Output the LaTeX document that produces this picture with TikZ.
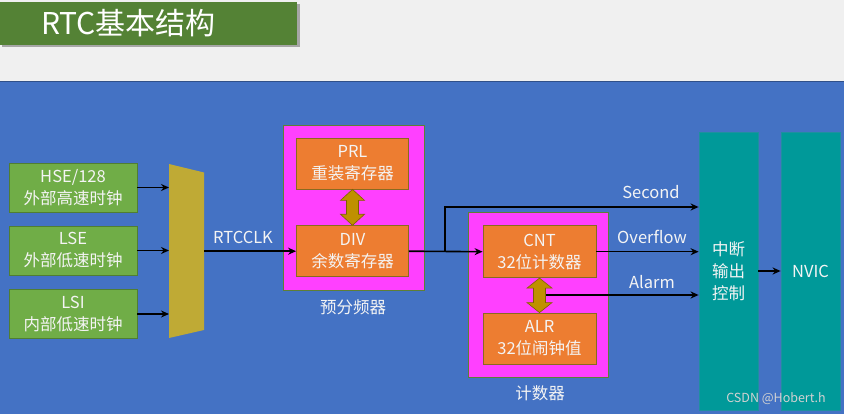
\documentclass[tikz,border=0pt]{standalone}
\usepackage{fontspec}
\setmainfont{Noto Sans CJK SC}
\usetikzlibrary{arrows.meta,calc}
\definecolor{bgblue}{HTML}{4472C4}
\definecolor{bggrey}{HTML}{F0F0F0}
\definecolor{titlegreen}{HTML}{548235}
\definecolor{srcgreen}{HTML}{70AD47}
\definecolor{srcedge}{HTML}{507E32}
\definecolor{muxgold}{HTML}{BFAA35}
\definecolor{magent}{HTML}{FF40FF}
\definecolor{magedge}{HTML}{5E7F35}
\definecolor{orng}{HTML}{ED7D31}
\definecolor{orngedge}{HTML}{8A6A20}
\definecolor{dgold}{HTML}{BF9000}
\definecolor{dgoldedge}{HTML}{7F6000}
\definecolor{teal}{HTML}{009999}
\definecolor{tealedge}{HTML}{1F8F9F}
\definecolor{txt}{HTML}{F4F4F4}
\tikzset{
  boxfont/.style={font=\fontsize{16.5}{22}\selectfont, text=txt, align=center, inner sep=0pt},
  srcbox/.style={boxfont, fill=srcgreen, draw=srcedge, line width=0.8pt, minimum width=128pt, minimum height=49pt},
  regbox/.style={boxfont, fill=orng, draw=orngedge, line width=0.8pt, minimum width=112pt, minimum height=51pt},
  grpbox/.style={fill=magent, draw=magedge, line width=0.8pt},
  tealbox/.style={boxfont, fill=teal, draw=tealedge, line width=0.8pt, minimum width=59pt, minimum height=278pt},
  lbl/.style={font=\fontsize{16.5}{18}\selectfont, text=txt, inner sep=0pt},
  arr/.style={draw=black, line width=1.6pt, -{Stealth[length=8pt,width=7pt]}},
  dbl/.style={fill=dgold, draw=dgoldedge, line width=0.6pt},
}
\begin{document}
\begin{tikzpicture}[x=1pt,y=-1pt]
\useasboundingbox (0,0) rectangle (844,414);
% backgrounds
\fill[bggrey] (0,0) rectangle (844,414);
\fill[bgblue] (0,82) rectangle (844,414);
\draw[color=bgblue!70!black, line width=1pt] (0,82) -- (844,82);
% title
\fill[gray!70] (2,4) rectangle (299.5,47.5);
\node[fill=titlegreen, minimum width=297pt, minimum height=43pt, inner sep=0pt] (title) at (148.5,23.5) {};
\node[font=\fontsize{30}{32}\selectfont, text=white, inner sep=0pt] (titletext) at (128.5,23) {RTC基本结构};
% sources
\node[srcbox] (hse) at (73,187.5) {HSE/128\\外部高速时钟};
\node[srcbox] (lse) at (73,250.5) {LSE\\外部低速时钟};
\node[srcbox] (lsi) at (73,314) {LSI\\内部低速时钟};
% mux
\coordinate (m1) at (169,164);
\coordinate (m2) at (204,172.5);
\coordinate (m3) at (204,330);
\coordinate (m4) at (169,338);
\fill[muxgold] (m1) -- (m2) -- (m3) -- (m4) -- cycle;
\coordinate (mhse) at (169,187.5);
\coordinate (mlse) at (169,250.5);
\coordinate (mlsi) at (169,314);
\coordinate (mout) at (204,251.2);
\draw[arr] (hse.east) -- (mhse);
\draw[arr] (lse.east) -- (mlse);
\draw[arr] (lsi.east) -- (mlsi);
% prescaler
\node[grpbox, minimum width=141pt, minimum height=165pt, inner sep=0pt] (pre) at (353.5,207.5) {};
\node[regbox] (prl) at (352.5,163.5) {PRL\\重装寄存器};
\node[regbox] (div) at (352.5,251.2) {DIV\\余数寄存器};
\node[lbl] (prelbl) at (353,307) {预分频器};
\path[dbl] (prl.south) -- ++(12,11) -- ++(-6,0) -- ($(div.north)+(6,-11)$) -- ++(6,0) -- (div.north)
  -- ++(-12,-11) -- ++(6,0) -- ($(prl.south)+(-6,11)$) -- ++(-6,0) -- cycle;
\node[lbl] (rtcclk) at (243,237) {RTCCLK};
\draw[arr] (mout) -- (div.west);
% counter
\node[grpbox, minimum width=140pt, minimum height=165pt, inner sep=0pt] (ctr) at (538,294.5) {};
\node[regbox, minimum width=113pt, minimum height=52pt] (cnt) at (539.5,251.7) {CNT\\32位计数器};
\node[regbox, minimum width=113pt] (alr) at (539.5,338.5) {ALR\\32位闹钟值};
\node[lbl] (ctrlbl) at (540,393) {计数器};
\path[dbl] (cnt.south) -- ++(12.5,10) -- ++(-6.5,0) -- ($(alr.north)+(6,-10)$) -- ++(6.5,0) -- (alr.north)
  -- ++(-12.5,-10) -- ++(6.5,0) -- ($(cnt.south)+(-6,10)$) -- ++(-6.5,0) -- cycle;
% interrupt and NVIC
\node[tealbox] (int) at (728.5,271) {中断\\输出\\控制};
\node[tealbox] (nvic) at (810.5,271) {NVIC};
% connections
\coordinate (br) at (445,251.2);
\coordinate (sec) at (445,207);
\coordinate (al) at (546,295);
\draw[arr] (div.east) -- (cnt.west);
\draw[arr] (br) -- (sec) -- (sec -| int.west);
\draw[arr] (cnt.east) -- (cnt.east -| int.west);
\draw[arr] (al) -- (al -| int.west);
\draw[arr] (int.east) -- (nvic.west);
\node[lbl] (seclbl) at (651,192) {Second};
\node[lbl] (ovflbl) at (652,237) {Overflow};
\node[lbl] (almlbl) at (652,282) {Alarm};
% watermark
\node[font=\fontsize{12.5}{14}\selectfont, text=gray!35, inner sep=0pt] (wm) at (776,398.5) {CSDN @Hobert.h};
\end{tikzpicture}
\end{document}
